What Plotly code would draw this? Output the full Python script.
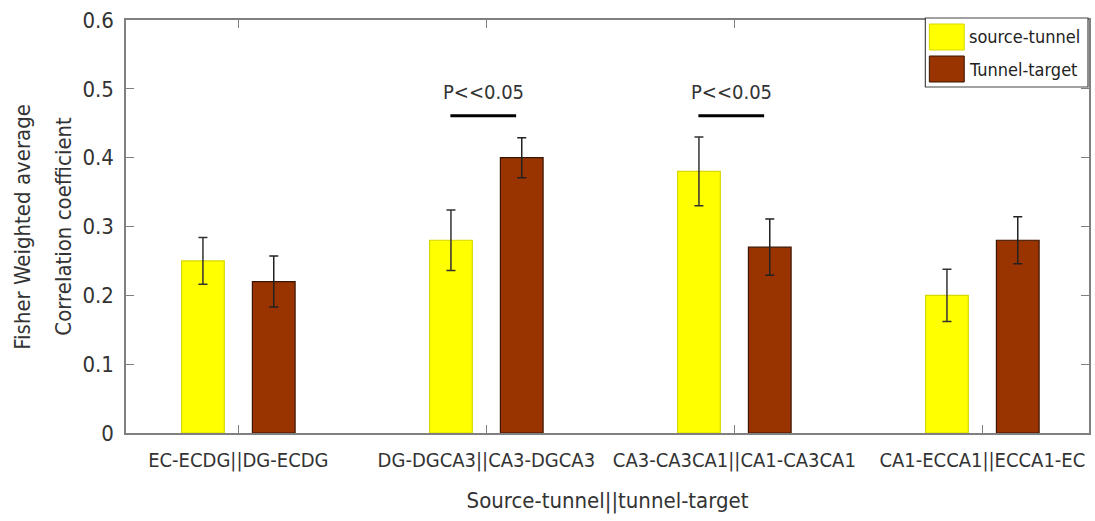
import plotly.graph_objects as go

categories = ["EC-ECDG||DG-ECDG", "DG-DGCA3||CA3-DGCA3", "CA3-CA3CA1||CA1-CA3CA1", "CA1-ECCA1||ECCA1-EC"]
x_pos = [1, 2, 3, 4]
source_tunnel = [0.25, 0.28, 0.38, 0.20]
source_tunnel_err = [0.034, 0.044, 0.050, 0.038]
tunnel_target = [0.22, 0.40, 0.27, 0.28]
tunnel_target_err = [0.037, 0.029, 0.041, 0.034]
series_names = ["source-tunnel", "Tunnel-target"]
sig_groups = [2, 3]
sig_level = 0.461
sig_text = "P<<0.05"
y_ticks = [0, 0.1, 0.2, 0.3, 0.4, 0.5, 0.6]
y_title_lines = ["Fisher Weighted average", "Correlation coefficient"]
x_title = "Source-tunnel||tunnel-target"

FONT = "Liberation Sans Narrow, DejaVu Sans Condensed, Arial Narrow, sans-serif"
YELLOW = "#FFFF00"
BROWN = "#993300"
TXT = "#333333"

fig = go.Figure()
fig.add_trace(go.Bar(
    x=x_pos, y=source_tunnel, name=series_names[0],
    marker=dict(color=YELLOW, line=dict(color="#d8d800", width=1.2)),
    error_y=dict(type="data", array=source_tunnel_err, color="#333333", thickness=1.5, width=4.5),
    showlegend=False,
))
fig.add_trace(go.Bar(
    x=x_pos, y=tunnel_target, name=series_names[1],
    marker=dict(color=BROWN, line=dict(color="#3a1500", width=1.2)),
    error_y=dict(type="data", array=tunnel_target_err, color="#222222", thickness=1.5, width=4.5),
    showlegend=False,
))

shapes = []
annotations = []
for g in sig_groups:
    shapes.append(dict(type="line", xref="x", yref="y", x0=g - 0.145, x1=g + 0.12,
                       y0=sig_level, y1=sig_level, line=dict(color="black", width=3)))
    annotations.append(dict(x=g - 0.012, y=sig_level + 0.035, xref="x", yref="y", text=sig_text,
                            showarrow=False, font=dict(family=FONT, size=20, color=TXT)))

W, H = 1095, 521
ml, mr, mt, mb = 126, 4, 20, 88
pw, ph = W - ml - mr, H - mt - mb
def px(xp):
    return (xp - ml) / pw
def py(yp):
    return 1 - (yp - mt) / ph

# manual legend (top-right, inside plot)
shapes.append(dict(type="rect", xref="paper", yref="paper", x0=px(927), x1=px(1090), y0=py(87), y1=py(18),
                   line=dict(color="#444444", width=1.2), fillcolor="white", layer="above"))
for i, (name, col, lc) in enumerate(zip(series_names, [YELLOW, BROWN], ["#d8d800", "#3a1500"])):
    top = 24 + i * 32
    shapes.append(dict(type="rect", xref="paper", yref="paper", x0=px(931), x1=px(966), y0=py(top + 26), y1=py(top),
                       line=dict(color=lc, width=1), fillcolor=col, layer="above"))
    annotations.append(dict(x=px(969), y=py(top + 13), xref="paper", yref="paper", text=name,
                            xanchor="left", yanchor="middle", showarrow=False,
                            font=dict(family=FONT, size=18, color="#222222")))

# y-axis title as two rotated lines
for xp, line in zip([22, 63], y_title_lines):
    annotations.append(dict(x=px(xp), y=0.5, xref="paper", yref="paper", text=line, textangle=-90,
                            xanchor="center", yanchor="middle", showarrow=False,
                            font=dict(family=FONT, size=22, color=TXT)))

fig.update_layout(
    width=W, height=H,
    margin=dict(l=ml, r=mr, t=mt, b=mb),
    paper_bgcolor="white", plot_bgcolor="white",
    barmode="group", bargap=0.429, bargroupgap=0.397,
    font=dict(family=FONT, color=TXT),
    shapes=shapes, annotations=annotations,
    xaxis=dict(
        range=[0.547, 4.43], tickmode="array", tickvals=x_pos, ticktext=categories,
        ticks="inside", ticklen=8, tickcolor="#808080", tickwidth=1.2,
        showline=True, linecolor="#808080", linewidth=1.5, mirror="ticks",
        showgrid=False, zeroline=False,
        tickfont=dict(family=FONT, size=20, color=TXT),
        ticklabelstandoff=8,
        title=dict(text=x_title, font=dict(family=FONT, size=22, color=TXT), standoff=22),
    ),
    yaxis=dict(
        range=[0, 0.6], tickmode="array", tickvals=y_ticks, ticktext=[("%g" % v) for v in y_ticks],
        ticks="inside", ticklen=8, tickcolor="#808080", tickwidth=1.2,
        showline=True, linecolor="#808080", linewidth=1.5, mirror="ticks",
        showgrid=False, zeroline=False,
        tickfont=dict(family=FONT, size=22, color=TXT),
        ticklabelstandoff=6,
    ),
)

fig.write_html("out.html")
